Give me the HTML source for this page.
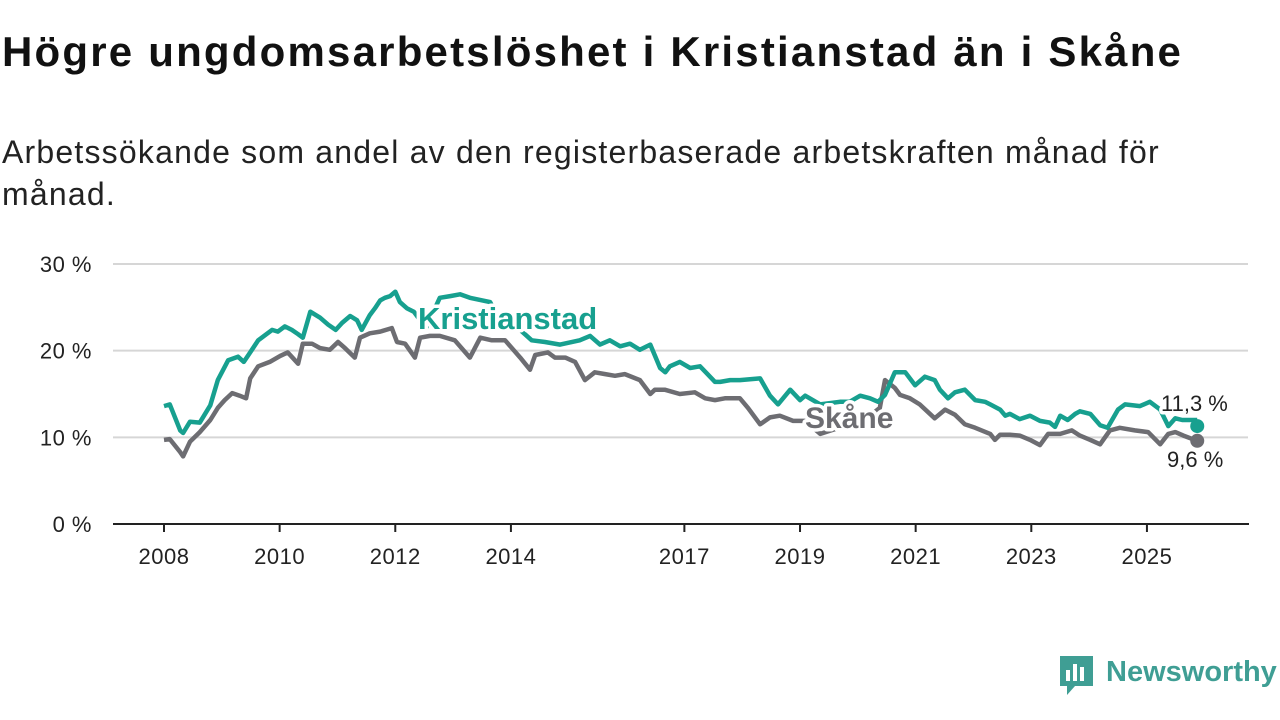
<!DOCTYPE html>
<html><head><meta charset="utf-8"><style>
body{margin:0;width:1280px;height:720px;background:#fff;overflow:hidden;font-family:"Liberation Sans",sans-serif;color:#111}
h1{position:absolute;left:2px;top:28px;margin:0;font-size:42px;font-weight:bold;letter-spacing:2.2px;white-space:nowrap}
p{position:absolute;left:2px;top:131px;margin:0;font-size:32px;line-height:42px;width:1200px;color:#222;letter-spacing:1.2px}
svg{position:absolute;left:0;top:0}
</style></head><body>
<h1>Högre ungdomsarbetslöshet i Kristianstad än i Skåne</h1>
<p>Arbetssökande som andel av den registerbaserade arbetskraften månad för månad.</p>
<svg id="c" width="1280" height="720"></svg>
<script>
const yTicks=[0,10,20,30];
const xTicks=[2008,2010,2012,2014,2017,2019,2021,2023,2025];
const kDates=[0,.10,.28,.33,.45,.62,.80,.93,1.11,1.28,1.38,1.49,1.63,1.75,1.87,1.97,2.09,2.21,2.32,2.40,2.53,2.70,2.84,2.97,3.08,3.22,3.34,3.42,3.56,3.65,3.74,3.82,3.91,4.00,4.08,4.20,4.32,4.53,4.77,4.95,5.12,5.29,5.64,5.81,6.16,6.36,6.59,6.85,7.19,7.37,7.54,7.71,7.89,8.06,8.23,8.41,8.58,8.67,8.75,8.92,9.10,9.27,9.37,9.53,9.62,9.79,9.96,10.31,10.48,10.62,10.83,11.00,11.09,11.35,11.69,11.86,12.04,12.21,12.35,12.47,12.64,12.82,12.99,13.16,13.33,13.42,13.56,13.68,13.85,14.03,14.20,14.29,14.46,14.55,14.63,14.80,14.98,15.15,15.32,15.41,15.50,15.63,15.76,15.84,16.02,16.19,16.32,16.50,16.62,16.88,17.05,17.23,17.37,17.49,17.61,17.87];
const kValues=[13.6,13.8,10.8,10.5,11.8,11.7,13.7,16.6,18.9,19.3,18.7,19.8,21.2,21.8,22.4,22.2,22.8,22.4,21.9,21.5,24.5,23.8,23.0,22.4,23.2,24.0,23.5,22.4,24.1,24.9,25.8,26.1,26.3,26.8,25.6,24.9,24.5,22.6,26.1,26.3,26.5,26.1,25.6,23.5,22.4,21.2,21.0,20.7,21.2,21.7,20.7,21.2,20.5,20.8,20.1,20.7,18.0,17.5,18.2,18.7,18.0,18.2,17.5,16.4,16.4,16.6,16.6,16.8,14.8,13.8,15.5,14.3,14.8,13.8,14.1,14.1,14.8,14.5,14.1,14.9,17.5,17.5,16.0,17.0,16.6,15.5,14.5,15.2,15.5,14.3,14.1,13.8,13.2,12.5,12.7,12.1,12.5,11.9,11.7,11.2,12.5,12.0,12.7,13.0,12.7,11.4,11.1,13.2,13.8,13.6,14.1,13.2,11.3,12.2,12.0,12.0,11.3];
const sDates=[0,.10,.28,.33,.45,.62,.80,.93,1.05,1.18,1.31,1.42,1.49,1.63,1.83,2.01,2.14,2.32,2.40,2.56,2.70,2.87,3.01,3.13,3.30,3.39,3.56,3.74,3.94,4.03,4.17,4.34,4.43,4.60,4.77,5.03,5.29,5.47,5.67,5.90,6.16,6.33,6.42,6.64,6.76,6.94,7.11,7.28,7.45,7.63,7.80,7.97,8.23,8.41,8.49,8.66,8.92,9.18,9.36,9.53,9.70,9.96,10.10,10.31,10.48,10.65,10.88,11.09,11.35,11.86,12.21,12.38,12.47,12.64,12.73,12.90,13.07,13.33,13.51,13.68,13.85,14.03,14.29,14.37,14.46,14.63,14.80,14.98,15.15,15.29,15.50,15.70,15.84,16.02,16.19,16.36,16.53,16.79,17.02,17.23,17.37,17.49,17.63,17.87];
const sValues=[9.7,9.8,8.3,7.8,9.5,10.6,12.0,13.4,14.3,15.1,14.8,14.5,16.8,18.2,18.7,19.4,19.8,18.5,20.8,20.8,20.3,20.1,21.0,20.3,19.2,21.5,22.0,22.2,22.6,21.0,20.8,19.2,21.5,21.7,21.7,21.2,19.2,21.5,21.2,21.2,19.2,17.8,19.5,19.8,19.2,19.2,18.7,16.6,17.5,17.3,17.1,17.3,16.6,15.0,15.5,15.5,15.0,15.2,14.5,14.3,14.5,14.5,13.4,11.5,12.3,12.5,11.9,11.9,10.4,11.5,12.5,13.4,16.6,15.7,14.9,14.5,13.8,12.2,13.2,12.6,11.5,11.1,10.4,9.7,10.3,10.3,10.2,9.7,9.1,10.4,10.4,10.8,10.2,9.7,9.2,10.8,11.1,10.8,10.6,9.2,10.4,10.6,10.2,9.6];
const NS='http://www.w3.org/2000/svg';
const svg=document.getElementById('c');
const X=d=>164+d*57.82, XY=y=>164+(y-2008)*57.82, Y=v=>524-v*8.667;
function mk(t,a,p){const e=document.createElementNS(NS,t);for(const k in a)e.setAttribute(k,a[k]);(p||svg).appendChild(e);return e;}
yTicks.forEach(v=>{
  if(v>0){const g=mk('line',{x1:113,x2:1248,y1:Y(v),y2:Y(v),stroke:'#d6d6d6','stroke-width':2});
  
  }
  const t=mk('text',{x:92,y:Y(v)+8,'text-anchor':'end','font-size':22,fill:'#222','letter-spacing':0.5});t.textContent=v+' %';
  
  
});
const ax=mk('line',{x1:113,x2:1249,y1:524,y2:524,stroke:'#222','stroke-width':2});


xTicks.forEach(y=>{
  const tk=mk('line',{x1:XY(y),x2:XY(y),y1:524,y2:532,stroke:'#222','stroke-width':2});
  
  
  const t=mk('text',{x:XY(y),y:564,'text-anchor':'middle','font-size':22,fill:'#222','letter-spacing':0.5});t.textContent=y;
  
  
});
function line(d,v,col,name){
  const pts=d.map((x,i)=>X(x).toFixed(1)+','+Y(v[i]).toFixed(1)).join(' ');
  const l=mk('polyline',{points:pts,fill:'none',stroke:col,'stroke-width':4.5,'stroke-linejoin':'round'});
  
  
  const c=mk('circle',{cx:X(d[d.length-1]),cy:Y(v[v.length-1]),r:7,fill:col});
  
  
}
line(sDates,sValues,'#6d6d72','skane-line');
line(kDates,kValues,'#17a08f','kristianstad-line');
function lab(x,y,txt,col,name,size,w){
  const t=mk('text',{x:x,y:y,'font-size':size,'font-weight':w,fill:col,stroke:'#fff','stroke-width':7,'paint-order':'stroke','stroke-linejoin':'round'});t.textContent=txt;
  
  
}
lab(418,329,'Kristianstad','#17a08f','kristianstad-label',31,'bold');
lab(805,428,'Skåne','#6d6d72','skane-label',30,'bold');
lab(1161,411,'11,3 %','#222','kristianstad-value',22,'normal');
lab(1167,467,'9,6 %','#222','skane-value',22,'normal');
</script>
<svg width="1280" height="720" style="pointer-events:none">
<path d="M1060 656h33v30h-18l-8 9v-9h-7z" fill="#3f9e94"/>
<rect x="1066" y="670" width="4" height="11" fill="#fff"/><rect x="1073" y="664" width="4" height="17" fill="#fff"/><rect x="1080" y="667" width="4" height="14" fill="#fff"/>
<text x="1106" y="681" font-size="29" font-weight="bold" fill="#3f9e94" font-family="Liberation Sans,sans-serif">Newsworthy</text>
</svg>
</body></html>
